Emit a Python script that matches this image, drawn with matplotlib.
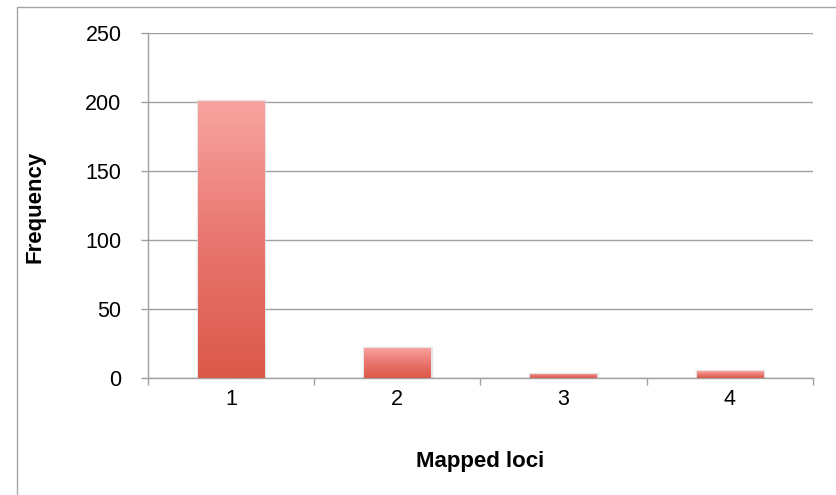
import matplotlib.pyplot as plt
import numpy as np
from matplotlib.patches import Rectangle
from matplotlib.colors import LinearSegmentedColormap

# mapped loci per read and how often each count occurs
loci = [1, 2, 3, 4]
freq = [201, 22, 3, 5]
yticks = [0, 50, 100, 150, 200, 250]

plt.rcParams['font.family'] = ['Liberation Sans', 'DejaVu Sans']
W, H = 837, 495
fig = plt.figure(figsize=(W / 100, H / 100), dpi=100)
ax = fig.add_axes([148 / W, 1 - 378 / H, (813 - 148) / W, (378 - 33) / H])

grey = '#A0A0A0'
bar_w = 0.4
grad = LinearSegmentedColormap.from_list('bar', ['#DB5949', '#E97670', '#F9A5A1'])
ramp = np.linspace(0, 1, 256).reshape(-1, 1)

bars = ax.bar(loci, freq, width=bar_w, color='none', edgecolor='none', zorder=3)
for b in bars:
    x0, h = b.get_x(), b.get_height()
    # soft shadow around the bar
    ax.add_patch(Rectangle((x0, 0), bar_w, h, fill=False, edgecolor='#D8D8D8',
                           lw=2.5, alpha=0.6, zorder=2))
    im = ax.imshow(ramp, cmap=grad, origin='lower', aspect='auto',
                   extent=[x0, x0 + bar_w, 0, h], zorder=3)
    im.set_clip_path(b)

ax.set_xlim(0.5, 4.5)
ax.set_ylim(0, 250)
ax.set_yticks(yticks)
ax.yaxis.grid(True, color=grey, lw=1)
ax.set_axisbelow(True)

ax.set_xticks([0.5, 1.5, 2.5, 3.5, 4.5])
ax.set_xticklabels([])
ax.set_xticks(loci, minor=True)
ax.set_xticklabels([str(v) for v in loci], minor=True)
ax.tick_params(axis='x', which='major', length=5, color=grey, width=1, direction='out')
ax.tick_params(axis='x', which='minor', length=0, pad=8, labelsize=15.5)
ax.tick_params(axis='y', length=5, color=grey, width=1, pad=14, labelsize=15.5)

for s in ['top', 'right']:
    ax.spines[s].set_visible(False)
for s in ['left', 'bottom']:
    ax.spines[s].set_color(grey)
    ax.spines[s].set_linewidth(1)

fig.text(35 / W, 1 - 207 / H, 'Frequency', rotation=90, ha='center', va='center',
         fontsize=16, fontweight='bold')
fig.text(480 / W, 1 - 467 / H, 'Mapped loci', ha='center', va='baseline',
         fontsize=16, fontweight='bold')

# chart area border
fig.patches.append(Rectangle((17 / W, -0.02), 1.0, 1 - 7 / H + 0.02, fill=False,
                             edgecolor='#A6A6A6', lw=1, transform=fig.transFigure))

fig.savefig('out.png', dpi=100)
